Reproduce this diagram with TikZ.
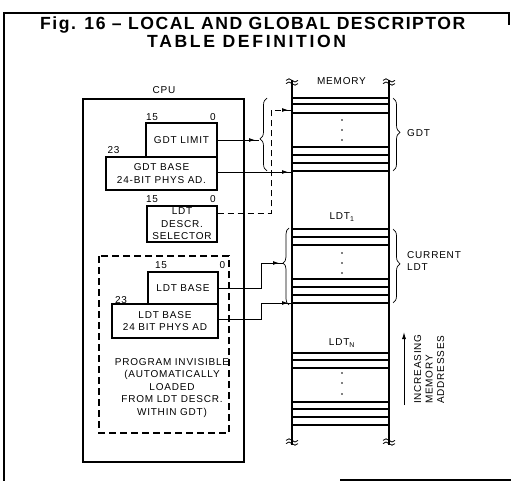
\documentclass[tikz,border=0pt]{standalone}
\usepackage{fontspec}
\setmainfont{Liberation Sans}
\newfontfamily\mylblf[LetterSpace=8]{Liberation Sans}
\newfontfamily\myttlf[LetterSpace=8.5]{Liberation Sans}
\newfontfamily\myttlg[LetterSpace=15]{Liberation Sans}
\newcommand\mylbl{\mylblf\fontsize{10}{12.5}\selectfont}
\usetikzlibrary{arrows.meta,decorations.pathreplacing,decorations.markings}
\tikzset{
  reg/.style={draw, line width=1.1pt, inner sep=0pt, align=center, font=\mylbl},
  lbl/.style={inner sep=0pt, font=\mylbl},
  ttl/.style={anchor=base west, inner sep=0pt, font=\myttlf\bfseries\fontsize{17.6}{20}\selectfont},
  ttlb/.style={anchor=base west, inner sep=0pt, font=\myttlg\bfseries\fontsize{17.6}{20}\selectfont},
  conn/.style={line width=0.9pt,
    decoration={markings, mark=at position -4pt with {\arrow{Latex[length=6pt,width=4pt]}}},
    postaction={decorate}},
  dconn/.style={conn, dash pattern=on 6pt off 4pt},
  memln/.style={line width=1.1pt},
  brc/.style={line width=0.7pt, decorate},
  brk/.pic={\draw[line width=0.8pt] (-6,-1.6) sin (-3,-3.2) cos (0,-1.6) sin (3,0) cos (6,-1.6);
            \draw[line width=0.8pt] (-6,1.6) sin (-3,0) cos (0,1.6) sin (3,3.2) cos (6,1.6);}
}
\begin{document}
\begin{tikzpicture}[x=1pt,y=-1pt]
\useasboundingbox (0,0) rectangle (511,481);
% frame (as printed: partly cut off)
\draw[line width=1.2pt] (4,481) -- (4,13) -- (509,13) -- (509,25);
\draw[line width=1.2pt] (340,480) -- (511,480);
% title
\node[ttl] (t1) at (40,30) {Fig. 16 – LOCAL AND GLOBAL DESCRIPTOR};
\node[ttlb] (t2) at (147,48) {TABLE DEFINITION};
% CPU
\draw[line width=1.2pt] (83,99) rectangle (244,462);
\node[lbl] (cpu) at (164,90) {CPU};
\node[reg, minimum width=71pt, minimum height=34pt] (gdtlim) at (181.5,140) {GDT LIMIT};
\node[reg, minimum width=111pt, minimum height=33pt] (gdtbase) at (161.5,173.5) {GDT BASE\\24-BIT PHYS AD.};
\node[lbl] (n15a) at (152,117.5) {15};
\node[lbl] (n0a) at (213,117.5) {0};
\node[lbl] (n23a) at (113.5,150) {23};
\node[reg, minimum width=70pt, minimum height=36pt] (ldtsel) at (182,224) {LDT\\DESCR.\\SELECTOR};
\node[lbl] (n15b) at (152,199.5) {15};
\node[lbl] (n0b) at (213,199.5) {0};
\draw[line width=1.2pt, dash pattern=on 7pt off 4pt] (99,256) rectangle (229,433);
\node[reg, minimum width=70pt, minimum height=32pt] (ldtb) at (183,288) {LDT BASE};
\node[reg, minimum width=106pt, minimum height=34pt] (ldtb24) at (165,321) {LDT BASE\\24 BIT PHYS AD};
\node[lbl] (n15c) at (161,265) {15};
\node[lbl] (n0c) at (222.5,265) {0};
\node[lbl] (n23c) at (121,300) {23};
\node[lbl, align=center] (inv) at (172,388) {PROGRAM INVISIBLE\\(AUTOMATICALLY\\LOADED\\FROM LDT DESCR.\\WITHIN GDT)};
% memory
\coordinate (mlt) at (292,80);
\coordinate (mlb) at (292,445);
\coordinate (mrt) at (389,80);
\coordinate (mrb) at (389,445);
\draw[memln] (mlt) -- (mlb);
\draw[memln] (mrt) -- (mrb);
\pic at (292,82) {brk};
\pic at (389,82) {brk};
\pic at (292,442) {brk};
\pic at (389,442) {brk};
\node[lbl] (mem) at (341.5,81.5) {MEMORY};
\foreach \y in {98,104,113,147,155,163,171, 229,237,245,279,287,295,303, 353,360,368,402,409,417,425}
  \draw[memln] (292,\y) -- (389,\y);
\foreach \y in {120,130,140, 253,263,273, 373,383,394}
  \fill (342,\y) circle (0.9pt);
\node[lbl] (ldt1) at (342,217) {LDT\textsubscript{1}};
\node[lbl] (ldtn) at (342,343) {LDT\textsubscript{N}};
% braces
\draw[brc, decoration={brace, amplitude=7pt, aspect=0.44}] (267,171) -- (267,98);
\coordinate (gdttip) at (259,140);
\draw[brc, decoration={brace, amplitude=6pt, aspect=0.545}] (289,305) -- (289,228);
\coordinate (ldttip) at (283,263);
\draw[brc, decoration={brace, amplitude=7pt, aspect=0.47}] (393,98) -- (393,171);
\draw[brc, decoration={brace, amplitude=7pt, aspect=0.47}] (393,229) -- (393,303);
\node[lbl, anchor=west] (gdtl) at (407,133) {GDT};
\node[lbl, anchor=west, align=left] (curl) at (407,261) {CURRENT\\LDT};
% connectors
\coordinate (gbT) at (292,172);
\coordinate (selT) at (292,110);
\coordinate (lbT) at (292,303);
\draw[conn] (gdtlim.east) -- (gdttip);
\draw[conn] (gdtbase.east |- gbT) -- (gbT);
\draw[dconn] (ldtsel.east |- 0,213) -| (271,110) -- (selT);
\draw[conn] (ldtb.east) -| (261,263) -- (ldttip);
\draw[conn] (ldtb24.east |- 0,319) -| (261,303) -- (lbT);
% increasing addresses
\coordinate (ia) at (404,405);
\coordinate (ib) at (404,332);
\draw[line width=0.9pt, -{Latex[length=7pt,width=4pt]}] (ia) -- (ib);
\node[lbl, rotate=90, anchor=north west, align=left, font=\mylblf\fontsize{10}{11.5}\selectfont] (incr) at (414,404) {INCREASING\\MEMORY\\ADDRESSES};
\end{tikzpicture}
\end{document}
